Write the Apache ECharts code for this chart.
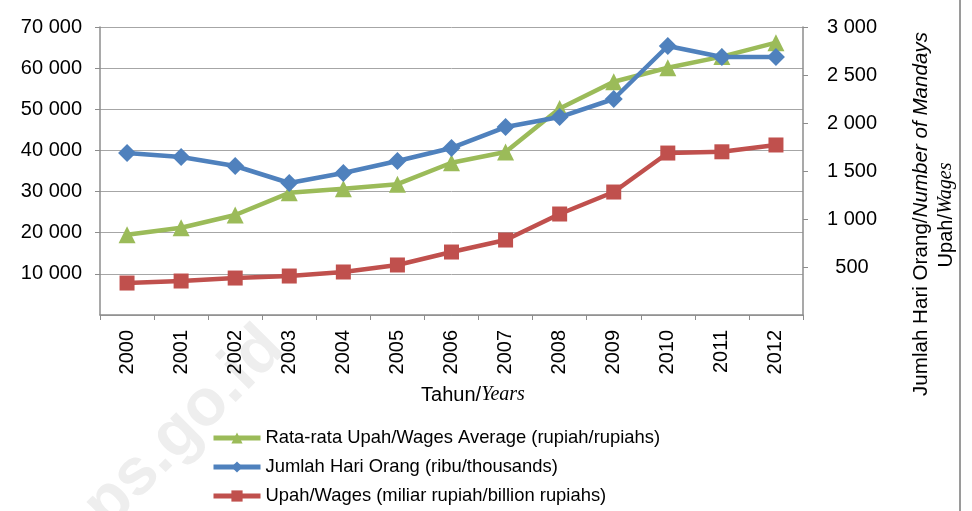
<!DOCTYPE html>
<html><head><meta charset="utf-8">
<script src="https://cdn.jsdelivr.net/npm/echarts@6/dist/echarts.min.js"></script>
<style>html,body{margin:0;padding:0;background:#fff}#c{width:972px;height:511px}</style>
</head><body><div id="c"></div>
<script>
const years = ['2000','2001','2002','2003','2004','2005','2006','2007','2008','2009','2010','2011','2012'];
const avgWage = [19500,21200,24300,29700,30700,31800,37000,39600,50200,56700,60100,62800,66200];
const mandays = [1687,1646,1552,1375,1479,1604,1740,1958,2062,2250,2802,2687,2687];
const wages = [333,354,385,406,448,521,656,781,1052,1281,1687,1700,1771];
const leftTicks = [0,70000,10000];
const rightTicks = [0,3000,500];

const fmt = v => String(v).replace(/\B(?=(\d{3})+(?!\d))/g, ' ');
const FONT = 'Liberation Sans, Arial, sans-serif';
const SERIF = 'Liberation Serif, Times New Roman, serif';
const chart = echarts.init(document.getElementById('c'));
chart.setOption({
  animation:false,
  textStyle:{fontFamily:FONT},
  grid:{left:100,right:169,top:27,bottom:196,containLabel:false},
  legend:{
    orient:'vertical',left:211,top:429,height:120,padding:0,itemGap:11,itemWidth:47,itemHeight:14,
    lineStyle:{width:5},
    textStyle:{fontSize:18.4,color:'#000',fontFamily:FONT},
    data:['Rata-rata Upah/Wages Average (rupiah/rupiahs)','Jumlah Hari Orang (ribu/thousands)','Upah/Wages (miliar rupiah/billion rupiahs)']
  },
  xAxis:{type:'category',data:years,boundaryGap:true,
    axisLine:{lineStyle:{color:'#8c8c8c',width:1.5}},
    axisTick:{show:true,length:5,lineStyle:{color:'#8c8c8c'}},
    axisLabel:{rotate:90,fontSize:20,color:'#000',margin:15,interval:0,fontFamily:FONT}
  },
  yAxis:[
    {type:'value',min:leftTicks[0],max:leftTicks[1],interval:leftTicks[2],position:'left',
     axisLine:{show:true,lineStyle:{color:'#8c8c8c',width:1.5}},
     axisTick:{show:true,length:5,lineStyle:{color:'#8c8c8c'}},
     splitLine:{lineStyle:{color:'#a6a6a6',width:1}},
     axisLabel:{fontSize:20,color:'#000',margin:18,showMinLabel:false,formatter:fmt,fontFamily:FONT}},
    {type:'value',min:rightTicks[0],max:rightTicks[1],interval:rightTicks[2],position:'right',
     axisLine:{show:true,lineStyle:{color:'#8c8c8c',width:1.5}},
     axisTick:{show:true,length:5,lineStyle:{color:'#8c8c8c'}},
     splitLine:{show:false},
     axisLabel:{fontSize:20,color:'#000',margin:49,align:'center',showMinLabel:false,formatter:fmt,fontFamily:FONT}}
  ],
  series:[
    {name:'Rata-rata Upah/Wages Average (rupiah/rupiahs)',type:'line',yAxisIndex:0,data:avgWage,z:3,
     symbol:'triangle',symbolSize:17,lineStyle:{width:4.5,color:'#9BBB59'},itemStyle:{color:'#9BBB59'}},
    {name:'Jumlah Hari Orang (ribu/thousands)',type:'line',yAxisIndex:1,data:mandays,z:4,
     symbol:'diamond',symbolSize:18,lineStyle:{width:4.5,color:'#4F81BD'},itemStyle:{color:'#4F81BD'}},
    {name:'Upah/Wages (miliar rupiah/billion rupiahs)',type:'line',yAxisIndex:1,data:wages,z:5,
     symbol:'rect',symbolSize:15,lineStyle:{width:4.5,color:'#C0504D'},itemStyle:{color:'#C0504D'}}
  ],
  graphic:[
    {type:'text',z:-10,x:274,y:338,rotation:Math.PI/4,
     style:{text:'bps.go.id',fontSize:66,fontWeight:'bold',fill:'#eeeeee',align:'right',verticalAlign:'middle',fontFamily:FONT}},
    {type:'text',x:473,y:395,
     style:{text:'{a|Tahun/}{b|Years}',align:'center',verticalAlign:'middle',
       rich:{a:{fontSize:20,fontFamily:FONT,fill:'#000'},b:{fontSize:20,fontStyle:'italic',fontFamily:SERIF,fill:'#000'}}}},
    {type:'text',x:921,y:214,rotation:Math.PI/2,
     style:{text:'{a|Jumlah Hari Orang/}{i|Number of Mandays}',align:'center',verticalAlign:'middle',
       rich:{a:{fontSize:20.6,fontFamily:FONT,fill:'#000'},i:{fontSize:20.6,fontStyle:'italic',fontFamily:FONT,fill:'#000'}}}},
    {type:'text',x:946,y:215,rotation:Math.PI/2,
     style:{text:'{a|Upah/}{b|Wages}',align:'center',verticalAlign:'middle',
       rich:{a:{fontSize:20,fontFamily:FONT,fill:'#000'},b:{fontSize:20,fontStyle:'italic',fontFamily:SERIF,fill:'#000'}}}},
    {type:'line',shape:{x1:960,y1:0,x2:960,y2:511},style:{stroke:'#9a9a9a',lineWidth:2}}
  ]
});
</script></body></html>
